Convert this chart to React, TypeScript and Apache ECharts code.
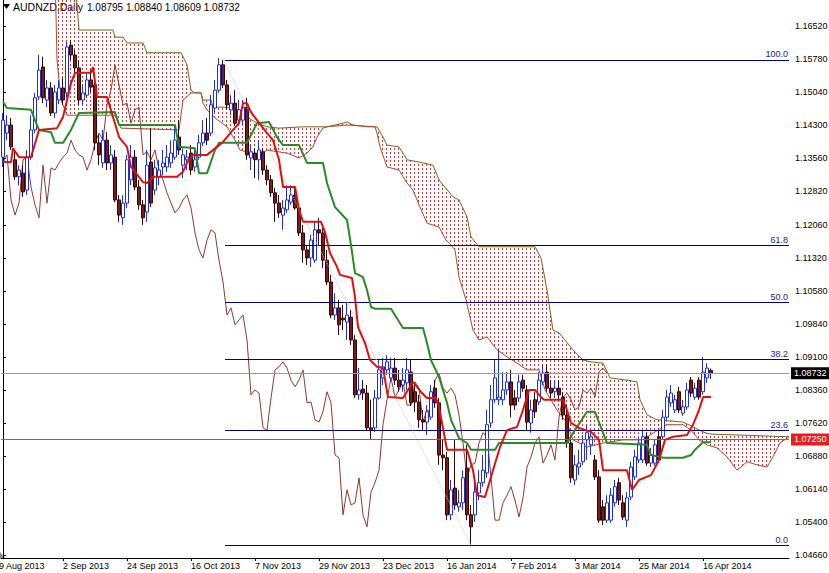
import { useEffect, useRef } from 'react';
import * as echarts from 'echarts';

const FONT = '"Liberation Sans", Arial, sans-serif';

// ---- Candles (bar index 0 = 12 Aug 2013) ----
const opens = [
  1.1358, 1.1412, 1.1430, 1.1352, 1.1314, 1.1322, 1.1284, 1.1358, 1.1419, 1.1493,
  1.1560, 1.1486, 1.1513, 1.1457, 1.1486, 1.1513, 1.1502, 1.1609, 1.1587, 1.1558,
  1.1486, 1.1497, 1.1531, 1.1520, 1.1390, 1.1345, 1.1396, 1.1345, 1.1358, 1.1262,
  1.1222, 1.1255, 1.1307, 1.1358, 1.1291, 1.1251, 1.1235, 1.1347, 1.1284, 1.1314,
  1.1336, 1.1336, 1.1345, 1.1358, 1.1403, 1.1340, 1.1352, 1.1367, 1.1336, 1.1358,
  1.1390, 1.1412, 1.1412, 1.1468, 1.1508, 1.1565, 1.1520, 1.1464, 1.1479, 1.1441,
  1.1441, 1.1470, 1.1356, 1.1367, 1.1352, 1.1370, 1.1329, 1.1307, 1.1278, 1.1255,
  1.1228, 1.1240, 1.1257, 1.1273, 1.1244, 1.1188, 1.1150, 1.1132, 1.1127, 1.1195,
  1.1188, 1.1127, 1.1078, 1.1004, 1.1020, 1.0997, 1.0988, 1.0999, 1.0948, 1.0825,
  1.0838, 1.0829, 1.0751, 1.0751, 1.0818, 1.0863, 1.0881, 1.0863, 1.0885, 1.0858,
  1.0847, 1.0852, 1.0876, 1.0832, 1.0809, 1.0769, 1.0764, 1.0775, 1.0840, 1.0807,
  1.0690, 1.0684, 1.0556, 1.0616, 1.0574, 1.0583, 1.0661, 1.0556, 1.0556, 1.0605,
  1.0628, 1.0650, 1.0762, 1.0814, 1.0814, 1.0814, 1.0836, 1.0854, 1.0818, 1.0818,
  1.0858, 1.0836, 1.0762, 1.0814, 1.0809, 1.0854, 1.0876, 1.0840, 1.0832, 1.0840,
  1.0820, 1.0780, 1.0717, 1.0634, 1.0663, 1.0675, 1.0724, 1.0713, 1.0679, 1.0641,
  1.0574, 1.0544, 1.0544, 1.0583, 1.0628, 1.0583, 1.0544, 1.0596, 1.0641, 1.0679,
  1.0679, 1.0731, 1.0672, 1.0672, 1.0731, 1.0731, 1.0775, 1.0807, 1.0791, 1.0832,
  1.0784, 1.0798, 1.0858, 1.0820, 1.0858, 1.0832, 1.0863, 1.08795,
];
const closes = [
  1.1441, 1.1430, 1.1381, 1.1314, 1.1329, 1.1280, 1.1358, 1.1419, 1.1491, 1.1553,
  1.1491, 1.1513, 1.1457, 1.1504, 1.1513, 1.1486, 1.1605, 1.1587, 1.1558, 1.1486,
  1.1502, 1.1531, 1.1515, 1.1390, 1.1363, 1.1396, 1.1345, 1.1363, 1.1262, 1.1228,
  1.1255, 1.1352, 1.1358, 1.1291, 1.1251, 1.1222, 1.1340, 1.1255, 1.1334, 1.1329,
  1.1345, 1.1358, 1.1367, 1.1396, 1.1374, 1.1363, 1.1358, 1.1329, 1.1352, 1.1390,
  1.1412, 1.1396, 1.1475, 1.1508, 1.1565, 1.1520, 1.1475, 1.1479, 1.1434, 1.1464,
  1.1470, 1.1363, 1.1370, 1.1352, 1.1374, 1.1329, 1.1307, 1.1278, 1.1255, 1.1233,
  1.1244, 1.1262, 1.1273, 1.1244, 1.1188, 1.1150, 1.1132, 1.1172, 1.1195, 1.1188,
  1.1127, 1.1078, 1.1004, 1.1020, 1.0982, 1.0993, 1.1004, 1.0948, 1.0825, 1.0836,
  1.0829, 1.0751, 1.0746, 1.0818, 1.0881, 1.0888, 1.0899, 1.0885, 1.0858, 1.0843,
  1.0858, 1.0881, 1.0807, 1.0809, 1.0769, 1.0764, 1.0787, 1.0832, 1.0807, 1.0690,
  1.0684, 1.0556, 1.0612, 1.0578, 1.0583, 1.0639, 1.0556, 1.0529, 1.0607, 1.0628,
  1.0656, 1.0758, 1.0814, 1.0863, 1.0820, 1.0836, 1.0854, 1.0802, 1.0802, 1.0854,
  1.0840, 1.0764, 1.0791, 1.0787, 1.0858, 1.0874, 1.0840, 1.0829, 1.0840, 1.0825,
  1.0780, 1.0717, 1.0639, 1.0668, 1.0672, 1.0717, 1.0740, 1.0731, 1.0641, 1.0544,
  1.0544, 1.0583, 1.0600, 1.0619, 1.0589, 1.0551, 1.0594, 1.0663, 1.0686, 1.0717,
  1.0731, 1.0672, 1.0690, 1.0713, 1.0679, 1.0775, 1.0820, 1.0829, 1.0814, 1.0791,
  1.0798, 1.0836, 1.0829, 1.0840, 1.0820, 1.0876, 1.0885, 1.08732,
];
const lows = [
  1.1336, 1.1396, 1.1374, 1.1307, 1.1295, 1.1269, 1.1273, 1.1352, 1.1412, 1.1486,
  1.1479, 1.1470, 1.1450, 1.1446, 1.1477, 1.1475, 1.1493, 1.1576, 1.1542, 1.1475,
  1.1475, 1.1491, 1.1504, 1.1374, 1.1340, 1.1334, 1.1329, 1.1329, 1.1257, 1.1213,
  1.1206, 1.1244, 1.1295, 1.1284, 1.1240, 1.1206, 1.1213, 1.1246, 1.1273, 1.1295,
  1.1318, 1.1325, 1.1334, 1.1352, 1.1363, 1.1311, 1.1329, 1.1318, 1.1325, 1.1352,
  1.1383, 1.1385, 1.1405, 1.1459, 1.1502, 1.1513, 1.1464, 1.1452, 1.1428, 1.1430,
  1.1430, 1.1352, 1.1329, 1.1311, 1.1307, 1.1318, 1.1295, 1.1269, 1.1213, 1.1222,
  1.1195, 1.1233, 1.1251, 1.1240, 1.1181, 1.1121, 1.1116, 1.1112, 1.1121, 1.1161,
  1.1109, 1.1071, 1.0997, 1.0993, 1.0959, 1.0970, 1.0948, 1.0937, 1.0818, 1.0814,
  1.0814, 1.0746, 1.0724, 1.0742, 1.0814, 1.0847, 1.0870, 1.0854, 1.0847, 1.0832,
  1.0832, 1.0836, 1.0800, 1.0787, 1.0751, 1.0746, 1.0735, 1.0769, 1.0796, 1.0668,
  1.0656, 1.0544, 1.0544, 1.0567, 1.0563, 1.0567, 1.0544, 1.0488, 1.0540, 1.0589,
  1.0619, 1.0639, 1.0751, 1.0807, 1.0802, 1.0802, 1.0825, 1.0775, 1.0791, 1.0809,
  1.0832, 1.0746, 1.0740, 1.0773, 1.0802, 1.0847, 1.0832, 1.0818, 1.0818, 1.0814,
  1.0769, 1.0706, 1.0628, 1.0623, 1.0645, 1.0668, 1.0679, 1.0690, 1.0634, 1.0538,
  1.0533, 1.0538, 1.0538, 1.0574, 1.0578, 1.0544, 1.0529, 1.0589, 1.0634, 1.0672,
  1.0672, 1.0666, 1.0663, 1.0666, 1.0672, 1.0724, 1.0769, 1.0798, 1.0784, 1.0784,
  1.0778, 1.0791, 1.0820, 1.0814, 1.0814, 1.0825, 1.0852, 1.08609,
];
const highs = [
  1.1457, 1.1452, 1.1446, 1.1374, 1.1340, 1.1340, 1.1374, 1.1452, 1.1502, 1.1587,
  1.1583, 1.1531, 1.1526, 1.1520, 1.1531, 1.1535, 1.1616, 1.1621, 1.1598, 1.1576,
  1.1520, 1.1549, 1.1553, 1.1535, 1.1408, 1.1419, 1.1414, 1.1385, 1.1374, 1.1273,
  1.1273, 1.1363, 1.1385, 1.1374, 1.1307, 1.1262, 1.1374, 1.1423, 1.1352, 1.1352,
  1.1374, 1.1385, 1.1396, 1.1430, 1.1441, 1.1378, 1.1374, 1.1385, 1.1374, 1.1408,
  1.1441, 1.1446, 1.1497, 1.1531, 1.1580, 1.1576, 1.1531, 1.1497, 1.1508, 1.1486,
  1.1486, 1.1491, 1.1385, 1.1378, 1.1396, 1.1378, 1.1340, 1.1318, 1.1289, 1.1273,
  1.1262, 1.1295, 1.1295, 1.1291, 1.1251, 1.1206, 1.1161, 1.1184, 1.1213, 1.1222,
  1.1199, 1.1150, 1.1094, 1.1053, 1.1038, 1.1027, 1.1031, 1.1015, 1.0959, 1.0885,
  1.0858, 1.0847, 1.0814, 1.0836, 1.0903, 1.0908, 1.0914, 1.0908, 1.0908, 1.0881,
  1.0885, 1.0908, 1.0903, 1.0847, 1.0825, 1.0791, 1.0802, 1.0847, 1.0858, 1.0818,
  1.0724, 1.0697, 1.0634, 1.0724, 1.0612, 1.0656, 1.0713, 1.0578, 1.0639, 1.0656,
  1.0690, 1.0791, 1.0847, 1.0903, 1.0926, 1.0876, 1.0876, 1.0881, 1.0836, 1.0870,
  1.0870, 1.0847, 1.0814, 1.0832, 1.0876, 1.0892, 1.0892, 1.0858, 1.0858, 1.0858,
  1.0832, 1.0802, 1.0735, 1.0690, 1.0702, 1.0735, 1.0758, 1.0746, 1.0690, 1.0656,
  1.0589, 1.0600, 1.0616, 1.0634, 1.0639, 1.0600, 1.0607, 1.0675, 1.0702, 1.0728,
  1.0746, 1.0740, 1.0706, 1.0724, 1.0746, 1.0791, 1.0836, 1.0847, 1.0825, 1.0843,
  1.0814, 1.0852, 1.0865, 1.0852, 1.0865, 1.0910, 1.0896, 1.08840,
];

// ---- Axis ticks ----
const dateTickIndex = [15, 31, 47, 63, 79, 95, 111, 127, 143, 159, 175];
const dateTickLabels = [
  '2 Sep 2013', '24 Sep 2013', '16 Oct 2013', '7 Nov 2013', '29 Nov 2013', '23 Dec 2013',
  '16 Jan 2014', '7 Feb 2014', '3 Mar 2014', '25 Mar 2014', '16 Apr 2014',
];
const firstDateLabel = '9 Aug 2013';
const priceTicks = [
  1.0466, 1.054, 1.0614, 1.0688, 1.0762, 1.0836, 1.091, 1.0984, 1.1058,
  1.1132, 1.1206, 1.1282, 1.1356, 1.143, 1.1504, 1.1578, 1.1652,
];

// ---- Ichimoku lines (vertices: [bar, price]) ----
const tenkan = [
  [0, 1.1347], [2, 1.1347], [2.5, 1.1378], [4, 1.1358], [7, 1.1358], [9, 1.1419], [13.5, 1.1423],
  [15, 1.1448], [17, 1.1524], [18, 1.1547], [22, 1.1547], [22.5, 1.156], [23.5, 1.1493], [26, 1.1493],
  [27.5, 1.1448], [29, 1.1403], [31, 1.1381], [32, 1.1336], [35, 1.1302], [36, 1.13], [37.5, 1.1314],
  [43.5, 1.1314], [45, 1.1325], [46, 1.1345], [47.5, 1.1363], [51, 1.1363], [53.5, 1.1381], [55, 1.1392],
  [57.5, 1.1419], [59, 1.1434], [60, 1.1479], [61, 1.1479], [62, 1.1459], [63.5, 1.1441], [66, 1.1412],
  [67.5, 1.1396], [69, 1.1352], [70, 1.1291], [73, 1.1291], [74, 1.124], [75, 1.1213], [79.5, 1.1213],
  [80.5, 1.119], [81.75, 1.1143], [83.5, 1.1112], [84.25, 1.1094], [87.25, 1.1087], [88, 1.1044],
  [88.75, 1.0977], [90.5, 1.0941], [91.75, 1.0903], [93.5, 1.0888], [95, 1.0885], [96.25, 1.082],
  [100, 1.0818], [102.5, 1.0854], [104.75, 1.0829], [106, 1.0818], [108.25, 1.0818], [109, 1.0798],
  [111, 1.0702], [116, 1.0702], [117.5, 1.0656], [118.5, 1.06], [120.5, 1.0596], [122.5, 1.0656],
  [124.25, 1.0708], [126, 1.0746], [128.5, 1.0753], [130, 1.0791], [131.5, 1.0836], [133, 1.0836],
  [134.5, 1.082], [135.25, 1.0814], [140, 1.0814], [141, 1.0791], [142, 1.0762], [144, 1.0751],
  [147, 1.0742], [149, 1.0724], [150, 1.0656], [156, 1.0656], [157.25, 1.0612], [159, 1.0634],
  [162, 1.0645], [164, 1.0679], [165.5, 1.0724], [167.5, 1.0731], [171, 1.0735], [172.5, 1.0758],
  [174, 1.0791], [175, 1.082], [177, 1.082],
];
const kijun = [
  [0, 1.1482], [1, 1.1468], [7, 1.1464], [8, 1.1441], [9, 1.1419], [12, 1.1414], [13, 1.139], [15, 1.139],
  [17, 1.1419], [19, 1.1457], [28, 1.1459], [29, 1.143], [43, 1.143], [44, 1.1381], [48, 1.1378],
  [49, 1.1322], [51, 1.1322], [53, 1.1374], [54, 1.139], [61, 1.139], [63.5, 1.1434], [66.5, 1.1437],
  [68.5, 1.1403], [70, 1.1385], [74, 1.1385], [76, 1.1345], [80, 1.1345], [81, 1.13], [83, 1.1246],
  [86, 1.1217], [87, 1.1161], [88, 1.1098], [90, 1.1089], [91, 1.106], [92, 1.1022], [93, 1.1018],
  [97, 1.1018], [100, 1.0975], [105, 1.0975], [106, 1.0941], [107, 1.0903], [109, 1.0865], [111, 1.0807],
  [112, 1.0769], [114, 1.0728], [116, 1.0717], [117, 1.0702], [123, 1.0702], [124, 1.0717], [141, 1.0717],
  [143, 1.0746], [146, 1.0787], [148, 1.0787], [151, 1.0717], [161, 1.0713], [162, 1.069], [165, 1.0684],
  [170, 1.0684], [172, 1.069], [173, 1.0702], [175, 1.0719], [177, 1.0719],
];
// Senkou span B (olive edge) and span A (brown edge), already displaced 26 bars ahead
const spanB = [
  [0, 1.1755], [18, 1.1755], [19, 1.1643], [27.5, 1.1643], [28, 1.1627], [30, 1.1627], [31, 1.1614],
  [35, 1.1614], [36, 1.1592], [44.5, 1.1592], [46, 1.1565], [47, 1.1508], [48, 1.1502], [49.5, 1.1502],
  [50, 1.1486], [52, 1.1486], [52.5, 1.147], [55, 1.147], [57, 1.1468], [59, 1.1464], [61, 1.1448],
  [63.5, 1.1434], [66, 1.1426], [69, 1.1423], [75, 1.1426], [81, 1.1426], [85, 1.1434], [86, 1.1437],
  [87.5, 1.143], [91, 1.1426], [93.5, 1.1426], [95, 1.1403], [96, 1.1385], [99, 1.1381], [100, 1.1367],
  [101, 1.1352], [104, 1.1347], [107.5, 1.134], [109, 1.1307], [112.5, 1.1269], [114, 1.1262],
  [116, 1.1224], [117, 1.1179], [119, 1.1157], [133, 1.1157], [134.5, 1.1132], [136, 1.106],
  [137.5, 1.097], [139, 1.0964], [142.5, 1.0926], [145, 1.0903], [147, 1.0899], [150, 1.0896],
  [151.75, 1.0863], [156, 1.0858], [158.5, 1.0854], [159.25, 1.0814], [161, 1.078], [163.5, 1.0769],
  [170, 1.0764], [173, 1.0751], [175.5, 1.074], [177, 1.0737], [196.5, 1.0731],
];
const spanA = [
  [0, 1.1778], [13, 1.1778], [13.5, 1.1576], [14.5, 1.1486], [16, 1.1452], [28, 1.1452], [29.5, 1.1423],
  [44, 1.1419], [45, 1.1486], [47, 1.1502], [49.5, 1.1502], [50, 1.1479], [51, 1.1464], [53, 1.1446],
  [56, 1.1426], [58, 1.1396], [59.25, 1.1374], [62, 1.1367], [64, 1.1358], [66, 1.1374], [71, 1.1367],
  [74, 1.1356], [76, 1.1367], [77.5, 1.1381], [78.5, 1.1403], [80, 1.1423], [81, 1.1426], [86, 1.143],
  [93, 1.1426], [93.5, 1.1412], [94.25, 1.1381], [96, 1.1336], [99, 1.1329], [101, 1.13], [102.5, 1.1284],
  [104.25, 1.1246], [106, 1.121], [109, 1.1201], [110.75, 1.1172], [111.5, 1.1166], [113, 1.115],
  [114, 1.1089], [115.75, 1.1038], [117.5, 1.097], [119, 1.0948], [121, 1.0955], [123.5, 1.0926],
  [126, 1.091], [128.5, 1.0896], [131, 1.0881], [134, 1.0881], [135.5, 1.0836], [138.5, 1.0791],
  [141, 1.0762], [142.5, 1.0724], [146, 1.0708], [150, 1.0717], [155, 1.0724], [160, 1.0724],
  [163, 1.0742], [166, 1.0758], [170, 1.0758], [172, 1.0746], [174, 1.0724], [176, 1.0713],
  [178.5, 1.0706], [181, 1.0686], [183.5, 1.0656], [186, 1.0675], [188.5, 1.0668], [191, 1.0663],
  [192.5, 1.0686], [194.25, 1.0717], [196.5, 1.0731],
];
const chikouShift = 26;

// ---- Fibonacci retracement & price lines ----
const fibLevels = [1.04883, 1.07449, 1.09037, 1.1032, 1.11604, 1.15758];
const fibNames = ['0.0', '23.6', '38.2', '50.0', '61.8', '100.0'];
const fibStartBar = 55.5;
const fibHighBar = 55;
const fibLowBar = 117;
const bidPrice = 1.08732;
const hLinePrice = 1.0725;
const titleSymbol = 'AUDNZD,Daily';
const titleQuote = '1.08795 1.08840 1.08609 1.08732';

const X_MIN = -0.5;
const X_MAX = 196.5;

export default function App() {
  const ref = useRef<HTMLDivElement>(null);

  useEffect(() => {
    const el = ref.current;
    if (!el) return;
    const chart = echarts.init(el, null, { renderer: 'svg' });

    const candleData = opens.map((o, i) => [i, o, closes[i], lows[i], highs[i]]);
    const chikouData = closes.slice(chikouShift).map((c, k) => [k, c]);

    const hatchSvg =
      "<svg xmlns='http://www.w3.org/2000/svg' width='4' height='4'><rect x='2' y='0' width='1' height='2' fill='#c93a3a'/></svg>";
    const hatchUrl = 'data:image/svg+xml;charset=utf-8,' + encodeURIComponent(hatchSvg);

    const fibMarks: any[] = fibLevels.map((v, k) => [
      {
        coord: [fibStartBar, v],
        lineStyle: { color: '#000080', width: 1, type: 'solid' },
        label: {
          show: true,
          position: 'insideEndTop',
          formatter: fibNames[k],
          color: '#23237a',
          fontSize: 9,
          fontFamily: FONT,
          distance: 1,
        },
      },
      { coord: [X_MAX, v] },
    ]);

    const priceTag = (v: number, line: string, bg: string) => [
      {
        coord: [X_MIN, v],
        lineStyle: { color: line, width: 1, type: 'solid' },
        label: {
          show: true, position: 'end', formatter: v.toFixed(5), backgroundColor: bg,
          color: '#fff', padding: [2, 3, 1, 3], fontSize: 9, fontFamily: FONT, distance: 2,
        },
      },
      { coord: [X_MAX, v] },
    ];

    const option: any = {
      animation: false,
      backgroundColor: '#ffffff',
      grid: { left: 1, right: 40, top: 0, bottom: 15, outerBoundsMode: 'none', containLabel: false },
      xAxis: {
        type: 'value',
        min: X_MIN,
        max: X_MAX,
        axisLine: { show: true, onZero: false, lineStyle: { color: '#000', width: 1 } },
        axisTick: { show: true, customValues: dateTickIndex, length: 3, lineStyle: { color: '#000' } },
        axisLabel: {
          customValues: dateTickIndex,
          formatter: (v: number) => {
            const k = dateTickIndex.indexOf(Math.round(v));
            return k >= 0 ? dateTickLabels[k] : '';
          },
          align: 'left',
          margin: 3,
          fontSize: 9,
          fontFamily: FONT,
          color: '#000',
        },
        splitLine: { show: false },
      },
      yAxis: {
        type: 'value',
        position: 'right',
        min: 1.04592,
        max: 1.17103,
        scale: true,
        axisLine: { show: true, lineStyle: { color: '#000', width: 1 } },
        axisTick: { show: true, customValues: priceTicks, length: 3, lineStyle: { color: '#000' } },
        axisLabel: {
          customValues: priceTicks,
          formatter: (v: number) => v.toFixed(5),
          margin: 6,
          fontSize: 9,
          fontFamily: FONT,
          color: '#000',
        },
        splitLine: { show: false },
      },
      graphic: [
        { type: 'polygon', shape: { points: [[3, 4], [10, 4], [6.5, 9]] }, style: { fill: '#000' }, silent: true },
        {
          type: 'text', x: 13, y: 7, silent: true,
          style: { text: titleSymbol, fontSize: 10.5, fontFamily: FONT, fill: '#000', align: 'left', verticalAlign: 'middle' },
        },
        {
          type: 'text', x: 87, y: 7, silent: true,
          style: { text: titleQuote, fontSize: 10, fontFamily: FONT, fill: '#000', align: 'left', verticalAlign: 'middle' },
        },
        {
          type: 'text', x: -1, y: 561, silent: true,
          style: { text: firstDateLabel, fontSize: 9, fontFamily: FONT, fill: '#000', align: 'left', verticalAlign: 'top' },
        },
        { type: 'polygon', shape: { points: [[0, 552], [0, 558], [5, 558]] }, style: { fill: '#8a8a8a' }, silent: true },
      ],
      series: [
        {
          type: 'custom',
          name: 'cloud',
          coordinateSystem: 'cartesian2d',
          silent: true,
          clip: true,
          z: 1,
          data: [[0, 1.1]],
          renderItem: (_params: any, api: any) => {
            const pts = [
              ...spanB.map((p) => api.coord(p)),
              ...spanA.slice().reverse().map((p) => api.coord(p)),
            ];
            return {
              type: 'polygon',
              shape: { points: pts },
              style: {
                fill: { image: hatchUrl, repeat: 'repeat', imageWidth: 4, imageHeight: 4 },
                stroke: null,
              },
            };
          },
        },
        {
          type: 'line', name: 'spanB', data: spanB, showSymbol: false, silent: true, z: 2,
          lineStyle: { color: '#6f6a1e', width: 1 },
        },
        {
          type: 'line', name: 'spanA', data: spanA, showSymbol: false, silent: true, z: 2,
          lineStyle: { color: '#a44a36', width: 1 },
        },
        {
          type: 'line', name: 'chikou', data: chikouData, showSymbol: false, silent: true, z: 3,
          lineStyle: { color: '#8b3b30', width: 1 },
        },
        {
          type: 'candlestick',
          name: 'AUDNZD',
          data: candleData,
          encode: { x: 0, y: [1, 2, 3, 4] },
          barWidth: 3,
          silent: true,
          z: 4,
          itemStyle: {
            color: '#ffffff',
            color0: '#7b1c1c',
            borderColor: '#1f2fd0',
            borderColor0: '#2a0808',
            borderWidth: 1,
          },
          markLine: {
            silent: true,
            symbol: ['none', 'none'],
            animation: false,
            data: [
              ...fibMarks,
              [
                { coord: [fibHighBar, fibLevels[5]], lineStyle: { color: '#c4c4c4', width: 1, type: 'dotted' }, label: { show: false } },
                { coord: [fibLowBar, fibLevels[0]] },
              ],
              priceTag(bidPrice, '#9a9a9a', '#000000'),
              priceTag(hLinePrice, '#e03a3a', '#e81e1e'),
            ],
          },
        },
        {
          type: 'line', name: 'kijun', data: kijun, showSymbol: false, silent: true, z: 5,
          lineStyle: { color: '#2a8a2a', width: 2 },
        },
        {
          type: 'line', name: 'tenkan', data: tenkan, showSymbol: false, silent: true, z: 6,
          lineStyle: { color: '#e01010', width: 2 },
        },
      ],
    };

    chart.setOption(option);
    return () => chart.dispose();
  }, []);

  return (
    <div
      ref={ref}
      style={{ position: 'fixed', left: 0, top: 0, width: 829, height: 573, background: '#ffffff' }}
    />
  );
}
